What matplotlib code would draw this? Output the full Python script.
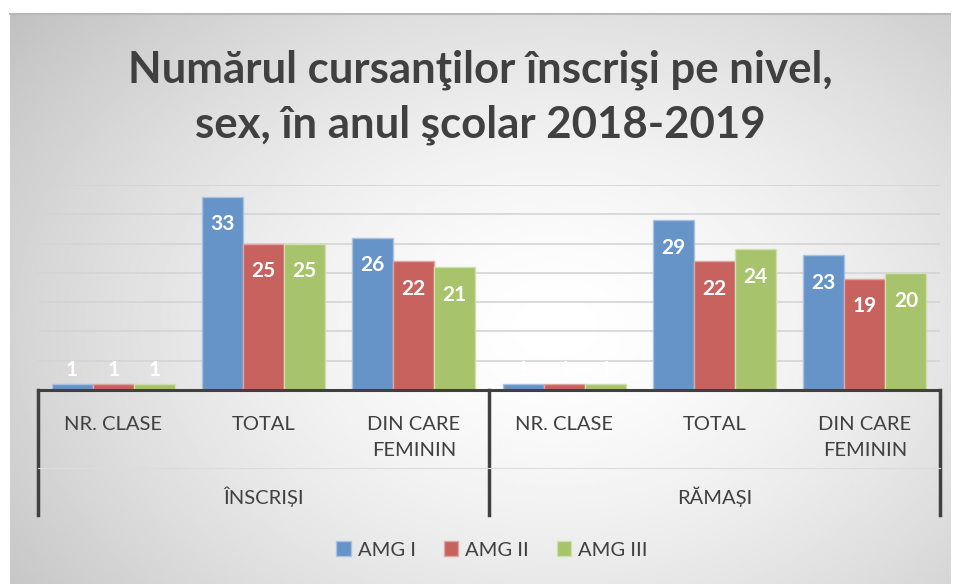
import numpy
import matplotlib
matplotlib.use('Agg')
import matplotlib.pyplot as plt

groups = ['ÎNSCRIȘI', 'RĂMAȘI']
categories = ['NR. CLASE', 'TOTAL', 'DIN CARE\nFEMININ'] * 2
series_names = ['AMG I', 'AMG II', 'AMG III']
amg_1 = [1, 33, 26, 1, 29, 23]
amg_2 = [1, 25, 22, 1, 22, 19]
amg_3 = [1, 25, 21, 1, 24, 20]
title = 'Numărul cursanţilor înscrişi pe nivel,\nsex, în anul şcolar 2018-2019'

colors_map = ['#6693c8', '#c8625f', '#a7c36b']
edge_map = ['#a9c2e2', '#e0a4a2', '#cfe0b0']
FONT = 'Lato'
W, H = 955, 584

fig = plt.figure(figsize=(W / 100, H / 100), dpi=100)
fig.patch.set_facecolor('white')

# background gradient of the chart area
bg = fig.add_axes([10 / W, 0, 940 / W, (H - 14) / H])
gx, gy = numpy.meshgrid(numpy.linspace(0, 1, 400), numpy.linspace(0, 1, 250))
dist = numpy.sqrt(((gx - 0.58) / 0.75) ** 2 + ((gy - 0.55) / 0.9) ** 2)
shade = 1 - 0.25 * numpy.clip(dist, 0, 1) ** 1.5
bg.imshow(shade, cmap='gray', vmin=0, vmax=1, aspect='auto', extent=[0, 1, 0, 1], origin='upper')
bg.axis('off')
fig.add_artist(plt.Line2D([10 / W, 950 / W], [1 - 14 / H, 1 - 14 / H], color='#b8b8b8', lw=1.5))

ax = fig.add_axes([38 / W, (H - 390) / H, 902 / W, 205 / H])
ax.patch.set_alpha(0)
ax.set_ylim(0, 35)
ax.set_xlim(-0.5, 5.5)
ax.set_yticks(numpy.arange(5, 36, 5))
ax.yaxis.grid(True, color='#d4d4d4', linewidth=1.2)
ax.set_axisbelow(True)
ax.tick_params(axis='both', length=0, labelleft=False, labelbottom=False)
for s in ['left', 'right', 'top']:
    ax.spines[s].set_visible(False)
ax.spines['bottom'].set_color('#404040')
ax.spines['bottom'].set_linewidth(2.2)

x = numpy.arange(len(categories))
bw = 0.273
all_series = [amg_1, amg_2, amg_3]
for i, vals in enumerate(all_series):
    xs = x + (i - 1) * bw
    bars = ax.bar(xs, vals, bw, color=colors_map[i], edgecolor=edge_map[i], linewidth=1, label=series_names[i])
    for xb, v in zip(xs, vals):
        off = 10 if v < 5 else -20
        ax.annotate(str(v), (xb, v), xytext=(0, off), textcoords='offset points',
                    ha='center', va='center', color='white', fontsize=15,
                    fontweight='bold', family=FONT)

# category axis with two levels
trans = ax.get_xaxis_transform()
depth = -125 / 205
for xv in [-0.5, 2.5, 5.5]:
    ax.plot([xv, xv], [0, depth], transform=trans, color='#404040', lw=2.5, clip_on=False)
ax.plot([-0.5, 5.5], [-78 / 205, -78 / 205], transform=trans, color='#dcdcdc', lw=0.8, clip_on=False)
for xv, lab in zip(x, categories):
    ax.text(xv, -26 / 205, lab, transform=trans, ha='center', va='top', fontsize=14.5,
            color='#404040', family=FONT, linespacing=1.65)
for k, g in enumerate(groups):
    ax.text(1 + 3 * k, -107 / 205, g, transform=trans, ha='center', va='center', fontsize=14.5,
            color='#404040', family=FONT)

fig.text(480 / W, 1 - 97 / H, title, ha='center', va='center', fontsize=31.5, fontweight='bold',
         color='#404040', family=FONT, linespacing=1.45)

fig.legend(loc='center', bbox_to_anchor=(492 / W, 1 - 550 / H), ncol=3, frameon=False,
           handlelength=0.7, handleheight=0.7, handletextpad=0.35, columnspacing=1.4,
           prop={'family': FONT, 'size': 14.5}, labelcolor='#404040')

fig.savefig('out.png', dpi=100)
